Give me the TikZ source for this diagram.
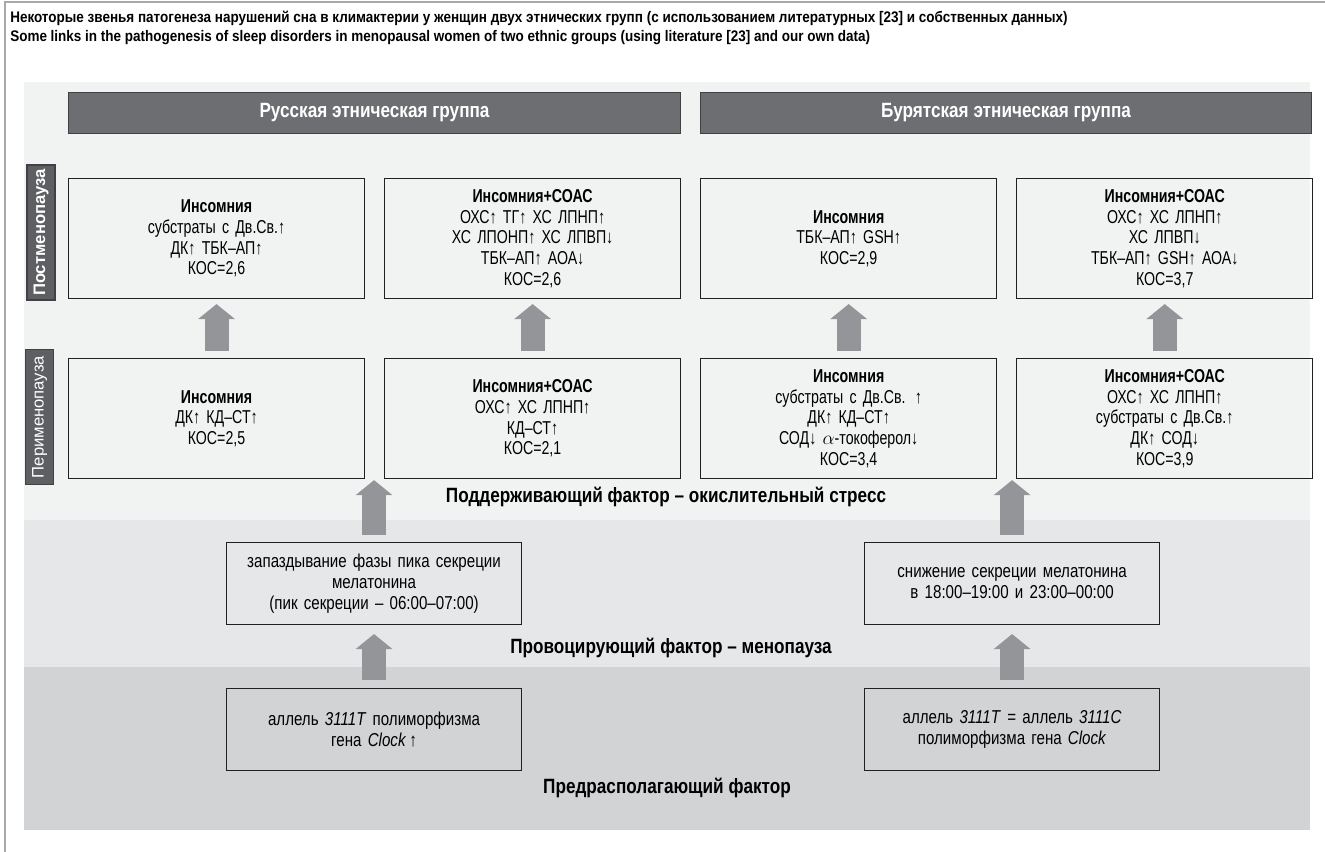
\documentclass[tikz,border=0pt]{standalone}
\usepackage{fontspec}
\setmainfont{Liberation Sans}[FakeStretch=0.8]
\newfontfamily\cellfamily{Liberation Sans}[FakeStretch=0.76, WordSpace=0.8]
\newfontfamily\headfamily{Liberation Sans}[FakeStretch=0.83]
\newfontfamily\captfamily{Liberation Sans}[FakeStretch=0.88]
\newfontfamily\lowfamily{Liberation Sans}[FakeStretch=0.81]
\newfontfamily\labfamily{Liberation Sans}
\usepackage{tikz}
\usetikzlibrary{positioning,arrows.meta}
\definecolor{panellight}{HTML}{F1F2F2}
\definecolor{panelmid}{HTML}{E6E7E8}
\definecolor{paneldark}{HTML}{D1D3D4}
\definecolor{framegray}{HTML}{A7A9AC}
\definecolor{headfill}{HTML}{6D6E71}
\definecolor{headline}{HTML}{414042}
\definecolor{labfill}{HTML}{5E5F62}
\definecolor{arrowgray}{HTML}{939598}
\definecolor{boxline}{HTML}{231F20}
\newcommand{\captfont}{\captfamily\fontsize{11.5}{13}\selectfont\bfseries}
\newcommand{\headfont}{\headfamily\fontsize{15.5}{18}\selectfont\bfseries}
\newcommand{\cellfont}{\cellfamily\fontsize{14}{15.5}\selectfont}
\newcommand{\lowfont}{\lowfamily\fontsize{14}{15.75}\selectfont}
\newcommand{\factfont}{\headfamily\fontsize{15.5}{18}\selectfont\bfseries}
\newcommand{\up}{↑}
\newcommand{\dn}{↓}

\begin{document}
\begin{tikzpicture}[x=0.75pt, y=-0.75pt, node distance=14.25pt,
    cell/.style={rectangle, draw=boxline, line width=0.8pt, minimum width=222pt, minimum height=90pt,
      text width=210pt, align=center, inner sep=0pt, font=\cellfont},
    lowcell/.style={cell, minimum width=221.25pt, minimum height=61.5pt, font=\lowfont},
    header/.style={rectangle, draw=headline, line width=0.8pt, fill=headfill, text=white, font=\headfont,
      minimum width=459pt, minimum height=30.75pt, inner sep=0pt},
    phase/.style={rectangle, draw=headline, line width=0.8pt, fill=labfill, text=white, rotate=90,
      minimum width=101.25pt, minimum height=21pt, inner sep=0pt, font=\labfamily\fontsize{12.5}{14}\selectfont},
    factor/.style={font=\factfont},
    uparrow/.style={draw=arrowgray, line width=18pt, -{Triangle[width=27pt, length=11.25pt]}}]
  % page and background bands
  \useasboundingbox (0,0) rectangle (1325,852);
  \fill[white] (0,0) rectangle (1325,852);
  \draw[framegray, line width=1.5pt] (5,852) -- (5,2) -- (1325,2);
  \fill[panellight] (24,82) rectangle (1310,520);
  \fill[panelmid] (24,520) rectangle (1310,667);
  \fill[paneldark] (24,667) rectangle (1310,830);

  % caption
  \node[anchor=west, font=\captfont, inner sep=0pt] (capru) at (10,18) {Некоторые звенья патогенеза нарушений сна в климактерии у женщин двух этнических групп (с использованием литературных [23] и собственных данных)};
  \node[anchor=west, font=\captfont, inner sep=0pt] (capen) at (10,38) {Some links in the pathogenesis of sleep disorders in menopausal women of two ethnic groups (using literature [23] and our own data)};

  % ethnic groups
  \node[header, anchor=north west] (rus) at (68,92) {Русская этническая группа};
  \node[header, right=of rus, minimum width=458.25pt] (bur) {Бурятская этническая группа};

  % phases
  \node[phase, font=\labfamily\fontsize{12.5}{14}\selectfont\bfseries] (postlab) at (41,232.5) {Постменопауза};
  \node[phase] (perilab) at (39.5,417) {Перименопауза};

  % postmenopause
  \node[cell, anchor=north west] (post1) at (68,178) {\textbf{Инсомния}\\субстраты с Дв.Св.\up\\ДК\up{} ТБК–АП\up\\КОС=2,6};
  \node[cell, right=of post1] (post2) {\textbf{Инсомния+СОАС}\\ОХС\up{} ТГ\up{} ХС ЛПНП\up\\ХС ЛПОНП\up{} ХС ЛПВП\dn\\ТБК–АП\up{} АОА\dn\\КОС=2,6};
  \node[cell, right=of post2] (post3) {\textbf{Инсомния}\\ТБК–АП\up{} GSH\up\\КОС=2,9};
  \node[cell, right=of post3] (post4) {\textbf{Инсомния+СОАС}\\ОХС\up{} ХС ЛПНП\up\\ХС ЛПВП\dn\\ТБК–АП\up{} GSH\up{} АОА\dn\\КОС=3,7};

  % perimenopause
  \node[cell, below=44.25pt of post1] (peri1) {\textbf{Инсомния}\\ДК\up{} КД–СТ\up\\КОС=2,5};
  \node[cell, right=of peri1] (peri2) {\textbf{Инсомния+СОАС}\\ОХС\up{} ХС ЛПНП\up\\КД–СТ\up\\КОС=2,1};
  \node[cell, right=of peri2] (peri3) {\textbf{Инсомния}\\субстраты с Дв.Св. \up\\ДК\up{} КД–СТ\up\\СОД\dn{} $\alpha$-токоферол\dn\\КОС=3,4};
  \node[cell, right=of peri3] (peri4) {\textbf{Инсомния+СОАС}\\ОХС\up{} ХС ЛПНП\up\\субстраты с Дв.Св.\up\\ДК\up{} СОД\dn\\КОС=3,9};

  \foreach \i in {1,...,4}
    \draw[uparrow] ([yshift=5.25pt]peri\i.north) -- ([yshift=-3.75pt]post\i.south);

  % factors
  \node[factor] (maint) at (666,497) {Поддерживающий фактор – окислительный стресс};
  \node[lowcell, anchor=north west] (delay) at (226,542) {запаздывание фазы пика секреции\\мелатонина\\(пик секреции – 06:00–07:00)};
  \node[lowcell, right=256.5pt of delay] (decline) {снижение секреции мелатонина\\в 18:00–19:00 и 23:00–00:00};
  \node[factor] (provoke) at (671,648) {Провоцирующий фактор – менопауза};
  \node[lowcell, below=47.25pt of delay] (allelru) {аллель \textit{3111T} полиморфизма\\гена \textit{Clock}\,\up};
  \node[lowcell, below=47.25pt of decline] (allelbu) {аллель \textit{3111T} = аллель \textit{3111C}\\полиморфизма гена \textit{Clock}};
  \node[factor] (predisp) at (667,788) {Предрасполагающий фактор};

  \draw[uparrow] ([yshift=5.25pt]delay.north) -- ([yshift=-0.75pt]delay.north |- peri1.south);
  \draw[uparrow] ([yshift=5.25pt]decline.north) -- ([yshift=-0.75pt]decline.north |- peri3.south);
  \draw[uparrow] ([yshift=6pt]allelru.north) -- ([yshift=-6.75pt]delay.south);
  \draw[uparrow] ([yshift=6pt]allelbu.north) -- ([yshift=-6.75pt]decline.south);
\end{tikzpicture}
\end{document}
